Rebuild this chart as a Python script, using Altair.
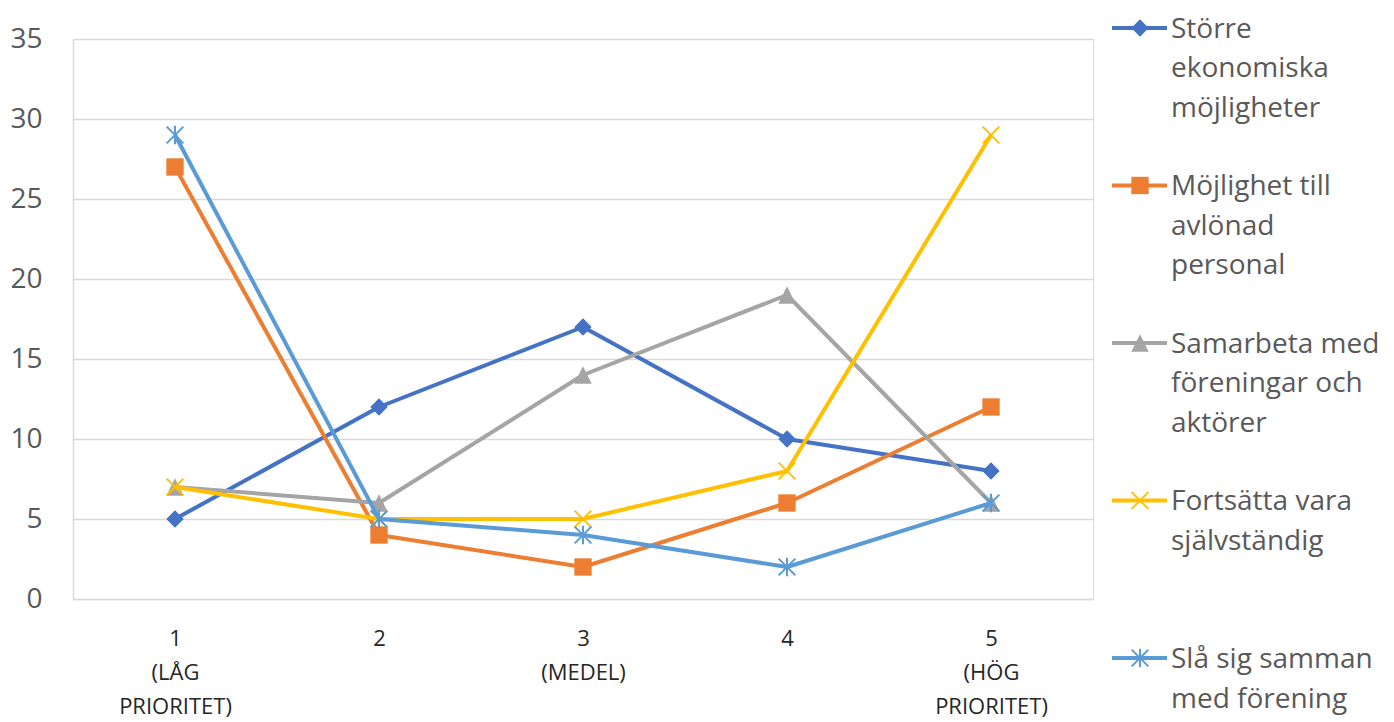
import altair as alt
import pandas as pd

# ---- data ----
categories = ["1\n(LÅG\nPRIORITET)", "2", "3\n(MEDEL)", "4", "5\n(HÖG\nPRIORITET)"]
series_names = [
    "Större ekonomiska möjligheter",
    "Möjlighet till avlönad personal",
    "Samarbeta med föreningar och aktörer",
    "Fortsätta vara självständig",
    "Slå sig samman med förening",
]
legend_labels = [
    "Större\nekonomiska\nmöjligheter",
    "Möjlighet till\navlönad\npersonal",
    "Samarbeta med\nföreningar och\naktörer",
    "Fortsätta vara\nsjälvständig",
    "Slå sig samman\nmed förening",
]
v_storre = [5, 12, 17, 10, 8]
v_avlonad = [27, 4, 2, 6, 12]
v_samarbeta = [7, 6, 14, 19, 6]
v_fortsatta = [7, 5, 5, 8, 29]
v_sla = [29, 5, 4, 2, 6]
y_ticks = [0, 5, 10, 15, 20, 25, 30, 35]

# ---- styles ----
colors = ["#4472C4", "#ED7D31", "#A5A5A5", "#FFC000", "#5B9BD5"]
shapes = [
    "M0,-1L1,0L0,1L-1,0Z",
    "M-1,-1L1,-1L1,1L-1,1Z",
    "M0,-1L1,1L-1,1Z",
    "M-1,-1L1,1M-1,1L1,-1",
    "M-1,-1L1,1M-1,1L1,-1M0,-1.1L0,1.1",
]
filled = [True, True, True, False, False]
FONT = "Open Sans"

all_values = [v_storre, v_avlonad, v_samarbeta, v_fortsatta, v_sla]
rows = []
for s, vals in zip(series_names, all_values):
    for c, v in zip(categories, vals):
        rows.append({"series": s, "cat": c, "value": v})
df = pd.DataFrame(rows)

leg_df = pd.DataFrame({"series": series_names, "idx": list(range(len(series_names))),
                       "label": legend_labels})

color_scale = alt.Scale(domain=series_names, range=colors)
shape_scale = alt.Scale(domain=series_names, range=shapes)

x_enc = alt.X("cat:N", sort=categories, title=None,
              axis=alt.Axis(labelExpr="split(datum.label, '\\n')", labelAngle=0,
                            labelFontSize=22, labelColor="#262626", labelFont=FONT,
                            labelLineHeight=34, labelPadding=29, ticks=False, tickSize=0,
                            domainColor="#D9D9D9", domainWidth=1.5, grid=False))
y_enc = alt.Y("value:Q", title=None, scale=alt.Scale(domain=[0, 35], nice=False),
              axis=alt.Axis(values=y_ticks, labelFontSize=28, labelColor="#595959",
                            labelFont=FONT, labelPadding=31, ticks=False, tickSize=0,
                            domainColor="#D9D9D9", domainWidth=1.5,
                            gridColor="#D9D9D9", gridWidth=1.5))

main_layers = []
for i, s in enumerate(series_names):
    base = alt.Chart(df).transform_filter(alt.datum.series == s)
    line = base.mark_line(strokeWidth=4, strokeJoin="round").encode(
        x=x_enc, y=y_enc,
        color=alt.Color("series:N", scale=color_scale, legend=None),
    )
    pt = base.mark_point(filled=filled[i], size=300 if filled[i] else 280, opacity=1,
                         strokeWidth=2).encode(
        x=x_enc, y=y_enc,
        color=alt.Color("series:N", scale=color_scale, legend=None),
        shape=alt.Shape("series:N", scale=shape_scale, legend=None),
    )
    main_layers += [line, pt]
main = alt.layer(*main_layers)

# ---- legend (entries placed by a scale of its own) ----
leg_y = alt.Y("idx:Q", axis=None,
              scale=alt.Scale(domain=[0.0699, 3.6254], reverse=True, nice=False, zero=False))
leg_layers = []
for i, s in enumerate(series_names):
    lb = alt.Chart(leg_df).transform_filter(alt.datum.series == s)
    leg_layers.append(lb.mark_rule(strokeWidth=4).encode(
        y=leg_y, x=alt.value(1039), x2=alt.value(1094),
        color=alt.Color("series:N", scale=color_scale, legend=None)))
    leg_layers.append(lb.mark_point(filled=filled[i], size=300 if filled[i] else 280,
                                    opacity=1, strokeWidth=2).encode(
        y=leg_y, x=alt.value(1067),
        color=alt.Color("series:N", scale=color_scale, legend=None),
        shape=alt.Shape("series:N", scale=shape_scale, legend=None)))
leg_layers.append(alt.Chart(leg_df).mark_text(
    align="left", baseline="alphabetic", dy=10, lineBreak="\n", lineHeight=39.5,
    fontSize=28, font=FONT, color="#595959").encode(
    y=leg_y, x=alt.value(1098), text="label:N"))
legend = alt.layer(*leg_layers)

chart = alt.layer(main, legend).resolve_scale(y="independent").properties(
    width=1020, height=560,
    autosize=alt.AutoSizeParams(type="none"),
    padding={"left": 65, "top": 31, "right": 290, "bottom": 125},
).configure_view(stroke=None).configure(font=FONT)

chart.save("out.html", embed_options={"renderer": "svg", "actions": False})
